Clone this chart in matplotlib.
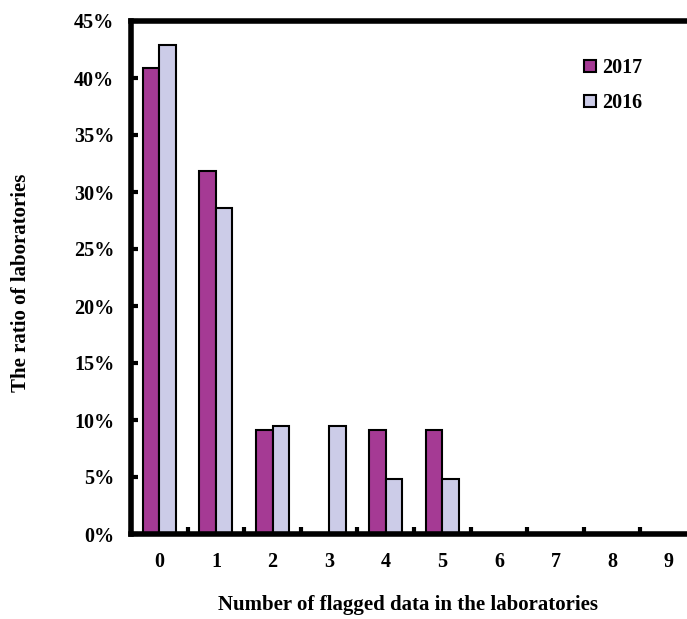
import matplotlib
matplotlib.use("Agg")
import matplotlib.pyplot as plt
import numpy as np
from matplotlib.ticker import FuncFormatter, MultipleLocator
from matplotlib.lines import Line2D

categories = ["0", "1", "2", "3", "4", "5", "6", "7", "8", "9"]
ratio_2017 = [40.9, 31.8, 9.1, 0.0, 9.1, 9.1, 0.0, 0.0, 0.0, 0.0]
ratio_2016 = [42.9, 28.6, 9.5, 9.5, 4.8, 4.8, 0.0, 0.0, 0.0, 0.0]
series_names = ["2017", "2016"]
colors = ["#A53A94", "#CCCCE8"]

plt.rcParams['font.family'] = ['Liberation Serif', 'DejaVu Serif']
plt.rcParams['font.weight'] = 'bold'

FS = 14.5

fig = plt.figure(figsize=(6.87, 6.19), dpi=100)
ax = fig.add_axes([131/687, (619-534)/619, (697-131)/687, (534-21)/619])

x = np.arange(len(categories))
w = 0.29
ax.bar(x - w/2, ratio_2017, w, color=colors[0], edgecolor='black', linewidth=1.5, label=series_names[0])
ax.bar(x + w/2, ratio_2016, w, color=colors[1], edgecolor='black', linewidth=1.5, label=series_names[1])

ax.set_xlim(-0.5, 9.5)
ax.set_ylim(0, 45)
ax.yaxis.set_major_locator(MultipleLocator(5))
ax.yaxis.set_major_formatter(FuncFormatter(lambda v, p: f"{int(round(v))}%"))
ax.set_xticks(x)
ax.set_xticklabels(categories)
ax.set_xticks(np.arange(0.5, 9.5, 1), minor=True)
ax.tick_params(axis='x', which='major', length=0, pad=13, labelsize=FS)
ax.tick_params(axis='x', which='minor', direction='in', length=5, width=3)
ax.tick_params(axis='y', direction='in', length=5, width=3, pad=12, labelsize=FS)
for lab in ax.get_xticklabels() + ax.get_yticklabels():
    lab.set_fontweight('bold')

for s in ['left', 'bottom', 'top', 'right']:
    ax.spines[s].set_linewidth(4)

fig.text(408/687, 1 - 605/619, "Number of flagged data in the laboratories", ha='center', va='center', fontsize=FS + 0.5, fontweight='bold')
fig.text(21/687, 1 - 283/619, "The ratio of laboratories", ha='center', va='center', rotation=90, fontsize=FS + 0.5, fontweight='bold')

handles = [Line2D([0], [0], marker='s', linestyle='none', markersize=8, markerfacecolor=c, markeredgecolor='black', markeredgewidth=1.5) for c in colors]
fig.legend(handles, series_names, loc='upper left', bbox_to_anchor=(566/687, 1 - 40/619), frameon=False,
           handlelength=0.6, handletextpad=0.3, labelspacing=0.75, prop={'size': FS, 'weight': 'bold'})

fig.savefig("out.png", dpi=100)
